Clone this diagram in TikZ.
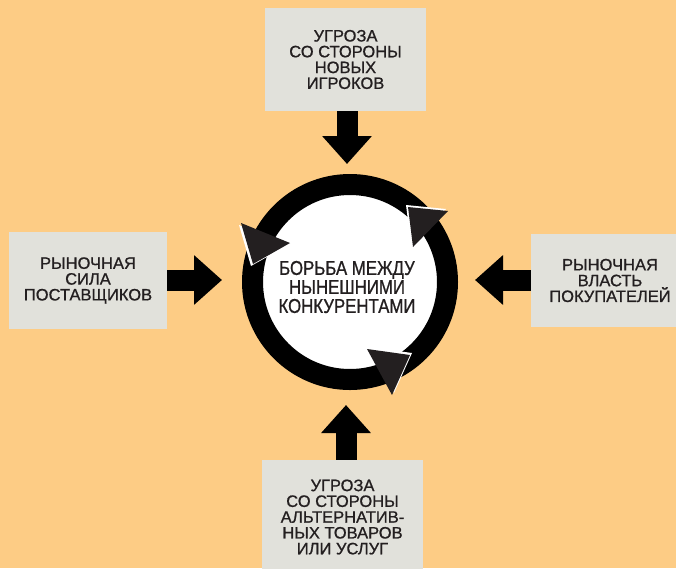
\documentclass[tikz,border=0pt]{standalone}
\usepackage{fontspec}
\setmainfont{Liberation Sans}
\newfontfamily\forcefont[FakeBold=0.9]{Liberation Sans}
\newfontfamily\ringfont[FakeStretch=0.84,FakeBold=0.9]{Liberation Sans}
\usetikzlibrary{arrows.meta}
\definecolor{backorange}{RGB}{253,204,133}
\definecolor{boxgray}{RGB}{225,225,219}
\definecolor{textdark}{RGB}{35,31,32}

\begin{document}
\setlength{\lineskiplimit}{-20pt}
\begin{tikzpicture}[x=1pt, y=-1pt,
      force/.style={fill=boxgray, inner sep=0pt, align=center, text=textdark,
        font=\forcefont\fontsize{16.5}{15.8}\selectfont},
      forcearrow/.style={line width=21pt, -{Triangle[length=28pt,width=48pt]}},
      ring/.style={circle, draw=black, line width=21pt, fill=white,
        minimum size=195pt, inner sep=0pt},
      ringtext/.style={align=center, inner sep=0pt, text=textdark,
        font=\ringfont\fontsize{20}{19}\selectfont},
      tipglow/.style={fill=white},
      tipdark/.style={fill=textdark}
      ]
      % page
      \useasboundingbox (0,0) rectangle (676,568);
      \fill[backorange] (0,0) rectangle (676,568);
      \clip (0,0) rectangle (676,568);

      % rivalry ring
      \node[ring] (rivalry) at (350,282) {};
      \node[ringtext] (rivalrytext) at (347,287) {БОРЬБА МЕЖДУ\\НЫНЕШНИМИ\\КОНКУРЕНТАМИ};

      % turning tips on the ring
      \fill[tipglow] (239,225) -- (288,245) -- (251,266) -- cycle;
      \fill[tipdark] (241,223) -- (290,243) -- (253,264) -- cycle;
      \fill[tipglow] (406,205) -- (446,209) -- (411,245) -- cycle;
      \fill[tipdark] (408,207) -- (448,211) -- (413,247) -- cycle;
      \fill[tipglow] (369,347) -- (412,353) -- (394,393) -- cycle;
      \fill[tipdark] (367,349) -- (410,355) -- (392,395) -- cycle;

      % forces
      \node[force, minimum width=161pt, minimum height=103pt] (entrants) at (345.5,59.5)
        {УГРОЗА\\СО СТОРОНЫ\\НОВЫХ\\ИГРОКОВ};
      \node[force, minimum width=158pt, minimum height=97pt] (suppliers) at (88,280.5)
        {РЫНОЧНАЯ\\СИЛА\\ПОСТАВЩИКОВ};
      \node[force, minimum width=158pt, minimum height=93pt] (buyers) at (610,280.5)
        {РЫНОЧНАЯ\\ВЛАСТЬ\\ПОКУПАТЕЛЕЙ};
      \node[force, minimum width=161pt, minimum height=114pt] (substitutes) at (342.5,517)
        {УГРОЗА\\СО СТОРОНЫ\\АЛЬТЕРНАТИВ-\\НЫХ ТОВАРОВ\\ИЛИ УСЛУГ};

      % arrows into the ring
      \coordinate (entrantstip) at (347,164);
      \coordinate (supplierstip) at (222,280);
      \coordinate (buyerstip) at (475,280);
      \coordinate (substitutestip) at (346,405);
      \draw[forcearrow] (entrants.south -| entrantstip) -- (entrantstip);
      \draw[forcearrow] (suppliers.east |- supplierstip) -- (supplierstip);
      \draw[forcearrow] (buyers.west |- buyerstip) -- (buyerstip);
      \draw[forcearrow] (substitutes.north -| substitutestip) -- (substitutestip);
    \end{tikzpicture}
\end{document}
